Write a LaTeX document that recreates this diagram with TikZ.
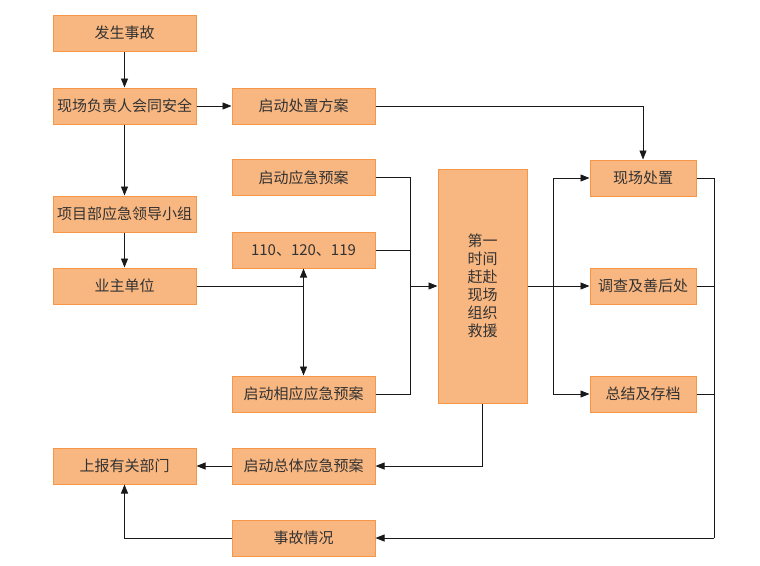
\documentclass[tikz,border=0pt]{standalone}
\usepackage{fontspec}
\setmainfont{Noto Sans CJK SC}
\usetikzlibrary{arrows.meta}
\definecolor{boxfill}{RGB}{248,182,128}
\definecolor{boxline}{RGB}{247,150,70}
\tikzset{
  stepbox/.style={draw=boxline,fill=boxfill,line width=1pt,rectangle,minimum width=143pt,minimum height=36pt,inner sep=0pt,font=\fontsize{15}{18}\selectfont,text=black!80},
  flow/.style={-{Triangle[length=9pt,width=7pt]},line width=0.8pt,black!90},
  link/.style={line width=0.8pt,black!90}
}
\begin{document}
\begin{tikzpicture}[x=1pt,y=-1pt]
    \useasboundingbox (0,0) rectangle (760,565);

    % left column
    \node[stepbox] (fs) at (124.5,33) {发生事故};
    \node[stepbox] (xc) at (124.5,106) {现场负责人会同安全};
    \node[stepbox] (xm) at (124.5,214) {项目部应急领导小组};
    \node[stepbox] (yz) at (124.5,286) {业主单位};
    \node[stepbox] (sb) at (124.5,466) {上报有关部门};

    % middle column
    \node[stepbox] (cz) at (303.5,106) {启动处置方案};
    \node[stepbox] (yj) at (303.5,177.5) {启动应急预案};
    \node[stepbox] (hm) at (303.5,250) {110、120、119};
    \node[stepbox] (xy) at (303.5,394) {启动相应应急预案};
    \node[stepbox] (zt) at (303.5,466) {启动总体应急预案};
    \node[stepbox] (qk) at (303.5,538) {事故情况};

    % rescue
    \node[stepbox,minimum width=89pt,minimum height=234pt,align=center,font=\fontsize{15}{18}\selectfont] (jy) at (482.5,286) {第一\\时间\\赶赴\\现场\\组织\\救援};

    % right column
    \node[stepbox,minimum width=106pt] (xcz) at (643,178) {现场处置};
    \node[stepbox,minimum width=106pt] (dc) at (643,286) {调查及善后处};
    \node[stepbox,minimum width=106pt] (zj) at (643,394) {总结及存档};

    % junctions
    \coordinate (yzj) at (303.5,286);
    \coordinate (inj) at (410,286);
    \coordinate (outj) at (553,286);
    \coordinate (rj) at (714,538);

    % connectors
    \draw[flow] (fs) -- (xc);
    \draw[flow] (xc) -- (xm);
    \draw[flow] (xm) -- (yz);
    \draw[flow] (xc) -- (cz);
    \draw[flow] (cz.east) -| (xcz.north);
    \draw[link] (yz.east) -- (yzj);
    \draw[flow] (yzj) -- (hm.south);
    \draw[flow] (yzj) -- (xy.north);
    \draw[link] (yj.east) -| (inj);
    \draw[link] (hm.east) -| (inj);
    \draw[link] (xy.east) -| (inj);
    \draw[flow] (inj) -- (jy.west);
    \draw[link] (jy.east) -- (outj);
    \draw[flow] (outj) -- (dc.west);
    \draw[flow] (outj) |- (xcz.west);
    \draw[flow] (outj) |- (zj.west);
    \draw[link] (xcz.east) -| (rj);
    \draw[link] (dc.east) -| (rj);
    \draw[link] (zj.east) -| (rj);
    \draw[flow] (rj) -- (qk.east);
    \draw[flow] (qk.west) -| (sb.south);
    \draw[flow] (jy.south) |- (zt.east);
    \draw[flow] (zt) -- (sb);
\end{tikzpicture}
\end{document}
